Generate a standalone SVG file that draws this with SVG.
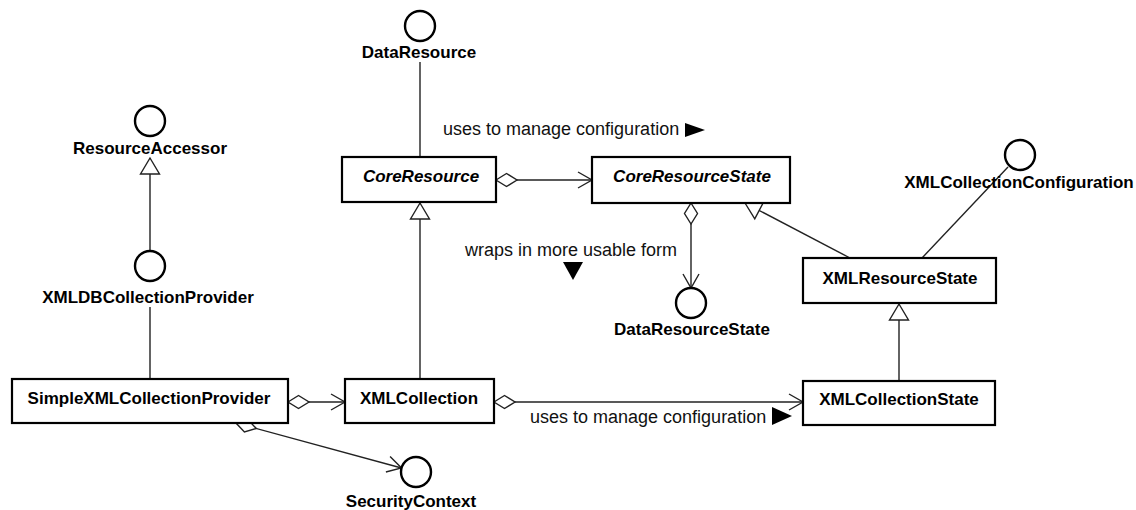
<svg xmlns="http://www.w3.org/2000/svg" width="1136" height="510" viewBox="0 0 1136 510">
  <style>
    .box { fill: #fff; stroke: #000; stroke-width: 2.2; }
    .iface { fill: #fff; stroke: #000; stroke-width: 2.4; }
    .name { font-family: "Liberation Sans", Arial, sans-serif; font-size: 17px; font-weight: bold; fill: #000; text-anchor: middle; }
    .abstract { font-style: italic; }
    .label { font-family: "Liberation Sans", Arial, sans-serif; font-size: 18px; fill: #111; }
    .edge { fill: none; stroke: #222; stroke-width: 1.4; }
    .dir { fill: #000; }
  </style>
  <defs>
    <marker id="diamond" markerUnits="userSpaceOnUse" markerWidth="24" markerHeight="16" viewBox="-1 -8 24 16" refX="0" refY="0" orient="auto" overflow="visible">
      <path d="M0,0 L10.5,-6.5 L21,0 L10.5,6.5 Z" fill="#fff" stroke="#222" stroke-width="1.4"/>
    </marker>
    <marker id="open" markerUnits="userSpaceOnUse" markerWidth="16" markerHeight="20" viewBox="-15 -10 16 20" refX="0" refY="0" orient="auto" overflow="visible">
      <path d="M-14,-8 L0,0 L-14,8" fill="none" stroke="#222" stroke-width="1.4"/>
    </marker>
    <marker id="inherit" markerUnits="userSpaceOnUse" markerWidth="20" markerHeight="22" viewBox="-18 -11 20 22" refX="0" refY="0" orient="auto" overflow="visible">
      <path d="M0,0 L-16,-9.5 L-16,9.5 Z" fill="#fff" stroke="#222" stroke-width="1.4"/>
    </marker>
  </defs>

  <!-- connectors -->
  <g id="connectors">
    <!-- XMLDBCollectionProvider extends ResourceAccessor -->
    <path class="edge" d="M150,251 L150,158" marker-end="url(#inherit)"/>
    <!-- SimpleXMLCollectionProvider realizes XMLDBCollectionProvider -->
    <path class="edge" d="M150,307 L150,379"/>
    <!-- CoreResource realizes DataResource -->
    <path class="edge" d="M420,62 L420,157"/>
    <!-- CoreResource holds CoreResourceState -->
    <path class="edge" d="M496,180 L592,180" marker-start="url(#diamond)" marker-end="url(#open)"/>
    <!-- XMLCollection extends CoreResource -->
    <path class="edge" d="M420,379 L420,203" marker-end="url(#inherit)"/>
    <!-- CoreResourceState wraps DataResourceState -->
    <path class="edge" d="M691,203 L691,288" marker-start="url(#diamond)" marker-end="url(#open)"/>
    <!-- XMLResourceState extends CoreResourceState -->
    <path class="edge" d="M850,258 L745,203" marker-end="url(#inherit)"/>
    <!-- XMLResourceState realizes XMLCollectionConfiguration -->
    <path class="edge" d="M922,258 L1008,167"/>
    <!-- XMLCollectionState extends XMLResourceState -->
    <path class="edge" d="M899,381 L899,304" marker-end="url(#inherit)"/>
    <!-- XMLCollection holds XMLCollectionState -->
    <path class="edge" d="M494,402 L803,402" marker-start="url(#diamond)" marker-end="url(#open)"/>
    <!-- SimpleXMLCollectionProvider holds XMLCollection -->
    <path class="edge" d="M288,402 L345,402" marker-start="url(#diamond)" marker-end="url(#open)"/>
    <!-- SimpleXMLCollectionProvider holds SecurityContext -->
    <path class="edge" d="M236,423 L401.5,468" marker-start="url(#diamond)" marker-end="url(#open)"/>

    <!-- association labels with direction marks -->
    <text class="label" x="443" y="135">uses to manage configuration</text>
    <polygon class="dir" points="685,123 705,130 685,137"/>
    <text class="label" x="465" y="256">wraps in more usable form</text>
    <polygon class="dir" points="563,262 583,262 573,280"/>
    <text class="label" x="530" y="423">uses to manage configuration</text>
    <polygon class="dir" points="772,407 792,416 772,425"/>
  </g>

  <!-- interfaces (lollipop circles) -->
  <g id="ResourceAccessor">
    <circle class="iface" cx="150" cy="121" r="15"/>
    <text class="name" x="150" y="154">ResourceAccessor</text>
  </g>
  <g id="XMLDBCollectionProvider">
    <circle class="iface" cx="150" cy="266" r="15"/>
    <text class="name" x="148" y="303">XMLDBCollectionProvider</text>
  </g>
  <g id="DataResource">
    <circle class="iface" cx="420" cy="26" r="15"/>
    <text class="name" x="419" y="58">DataResource</text>
  </g>
  <g id="DataResourceState">
    <circle class="iface" cx="691" cy="303" r="15"/>
    <text class="name" x="692" y="335">DataResourceState</text>
  </g>
  <g id="XMLCollectionConfiguration">
    <circle class="iface" cx="1020" cy="155" r="15"/>
    <text class="name" x="1019" y="188">XMLCollectionConfiguration</text>
  </g>
  <g id="SecurityContext">
    <circle class="iface" cx="416" cy="472" r="15"/>
    <text class="name" x="411" y="507">SecurityContext</text>
  </g>

  <!-- classes -->
  <g id="CoreResource">
    <rect class="box" x="342" y="157" width="154" height="45"/>
    <text class="name abstract" x="421" y="182">CoreResource</text>
  </g>
  <g id="CoreResourceState">
    <rect class="box" x="592" y="157" width="198" height="46"/>
    <text class="name abstract" x="692" y="182">CoreResourceState</text>
  </g>
  <g id="XMLResourceState">
    <rect class="box" x="803" y="258" width="193" height="45"/>
    <text class="name" x="900" y="284">XMLResourceState</text>
  </g>
  <g id="SimpleXMLCollectionProvider">
    <rect class="box" x="12" y="379" width="276" height="44"/>
    <text class="name" x="149" y="404">SimpleXMLCollectionProvider</text>
  </g>
  <g id="XMLCollection">
    <rect class="box" x="345" y="379" width="149" height="44"/>
    <text class="name" x="419" y="404">XMLCollection</text>
  </g>
  <g id="XMLCollectionState">
    <rect class="box" x="803" y="381" width="192" height="44"/>
    <text class="name" x="899" y="405">XMLCollectionState</text>
  </g>
</svg>
